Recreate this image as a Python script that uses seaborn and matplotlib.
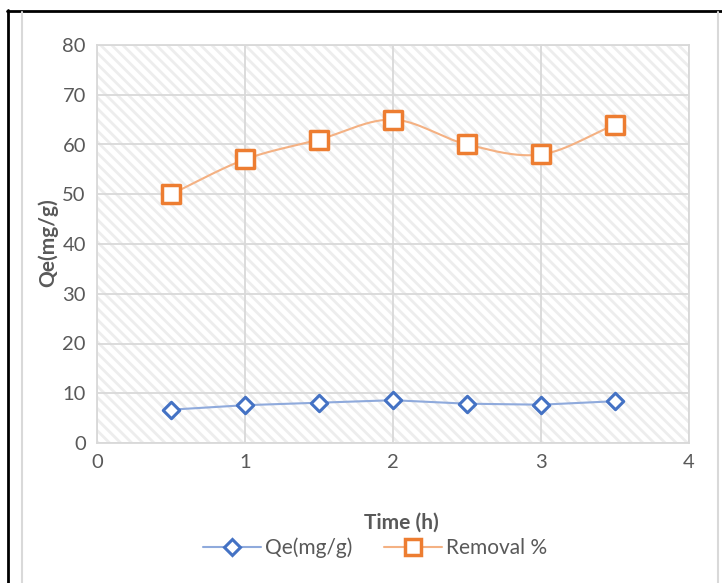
import numpy as np
import pandas as pd
import matplotlib
matplotlib.use("Agg")
import matplotlib.pyplot as plt
import seaborn as sns
from matplotlib.lines import Line2D
from matplotlib.patches import Rectangle

time_h = [0.5, 1.0, 1.5, 2.0, 2.5, 3.0, 3.5]
qe = [6.7, 7.6, 8.1, 8.6, 7.9, 7.7, 8.4]
removal = [50, 57, 61, 65, 60, 58, 64]
x_ticks = [0, 1, 2, 3, 4]
y_ticks = [0, 10, 20, 30, 40, 50, 60, 70, 80]

sns.set_theme(style="white")
plt.rcParams['font.family'] = ['Lato', 'DejaVu Sans']
plt.rcParams['hatch.linewidth'] = 2.0

BLUE = "#4472C4"
ORANGE = "#ED7D31"
GRID = "#d9d9d9"
TXT = "#595959"


def catmull(xs, ys, n=30):
    xs = np.asarray(xs, float); ys = np.asarray(ys, float)
    px = np.concatenate([[2 * xs[0] - xs[1]], xs, [2 * xs[-1] - xs[-2]]])
    py = np.concatenate([[2 * ys[0] - ys[1]], ys, [2 * ys[-1] - ys[-2]]])
    ox, oy = [], []
    for i in range(1, len(px) - 2):
        p0, p1, p2, p3 = (np.array([px[j], py[j]]) for j in (i - 1, i, i + 1, i + 2))
        c1 = p1 + (p2 - p0) / 6
        c2 = p2 - (p3 - p1) / 6
        t = np.linspace(0, 1, n, endpoint=(i == len(px) - 3))[:, None]
        b = (1 - t) ** 3 * p1 + 3 * (1 - t) ** 2 * t * c1 + 3 * (1 - t) * t ** 2 * c2 + t ** 3 * p2
        ox.extend(b[:, 0]); oy.extend(b[:, 1])
    return np.array(ox), np.array(oy)


fig = plt.figure(figsize=(7.22, 5.83), dpi=100)
ax = fig.add_axes([97 / 722, 1 - 443 / 583, 592 / 722, 398 / 583])

ax.set_xlim(0, 4)
ax.set_ylim(0, 80)
ax.add_patch(Rectangle((0, 0), 4, 80, facecolor="white", edgecolor="#ededed",
                       hatch="\\\\\\", lw=0, zorder=0))
ax.set_xticks(x_ticks)
ax.set_yticks(y_ticks)
ax.grid(True, color=GRID, lw=1.3, zorder=1)
ax.set_axisbelow(True)
for s in ax.spines.values():
    s.set_color(GRID)
    s.set_linewidth(1.3)
ax.tick_params(axis='both', length=0, labelsize=14.5, labelcolor=TXT, pad=8)

df = pd.DataFrame({"time": time_h, "qe": qe, "removal": removal})
sx, sy = catmull(time_h, removal)
sm = pd.DataFrame({"time": sx, "removal": sy})

sns.lineplot(data=df, x="time", y="qe", ax=ax, color="#8FAADC", lw=1.5,
             estimator=None, sort=False, zorder=3)
sns.scatterplot(data=df, x="time", y="qe", ax=ax, marker="D", s=70,
                facecolor="white", edgecolor=BLUE, linewidth=2.2, zorder=4)
sns.lineplot(data=sm, x="time", y="removal", ax=ax, color="#F4B183", lw=1.5,
             estimator=None, sort=False, zorder=3)
sns.scatterplot(data=df, x="time", y="removal", ax=ax, marker="s", s=150,
                facecolor="white", edgecolor=ORANGE, linewidth=2.5, zorder=4)

ax.set_xlabel("")
ax.set_ylabel("")
fig.text(401 / 722, 1 - 523 / 583, "Time (h)", ha="center", va="center",
         fontsize=15, fontweight="bold", color=TXT)
fig.text(48 / 722, 1 - 243 / 583, "Qe(mg/g)", ha="center", va="center",
         rotation=90, fontsize=15, fontweight="bold", color=TXT)

handles = [
    Line2D([], [], color="#8FAADC", lw=1.5, marker="D", ms=8, mfc="white",
           mec=BLUE, mew=2.2),
    Line2D([], [], color="#F4B183", lw=1.5, marker="s", ms=11, mfc="white",
           mec=ORANGE, mew=2.5),
]
fig.legend(handles, ["Qe(mg/g)", "Removal %"], loc="center",
           bbox_to_anchor=(375 / 722, 1 - 548 / 583), ncol=2, frameon=False,
           fontsize=15, handlelength=2.8, columnspacing=1.5, handletextpad=0.2,
           labelcolor=TXT)

# outer frame lines
fig.add_artist(Line2D([7 / 722, 1], [1 - 10.5 / 583, 1 - 10.5 / 583],
                      transform=fig.transFigure, color="black", lw=2))
fig.add_artist(Line2D([7.5 / 722, 7.5 / 722], [0, 1 - 10 / 583],
                      transform=fig.transFigure, color="black", lw=2))
fig.add_artist(Line2D([22 / 722, 22 / 722], [0, 1 - 12 / 583],
                      transform=fig.transFigure, color="#d9d9d9", lw=1.5))
fig.add_artist(Line2D([718 / 722, 718 / 722], [0, 1 - 12 / 583],
                      transform=fig.transFigure, color="#d9d9d9", lw=1.5))

fig.savefig("out.png", dpi=100)
